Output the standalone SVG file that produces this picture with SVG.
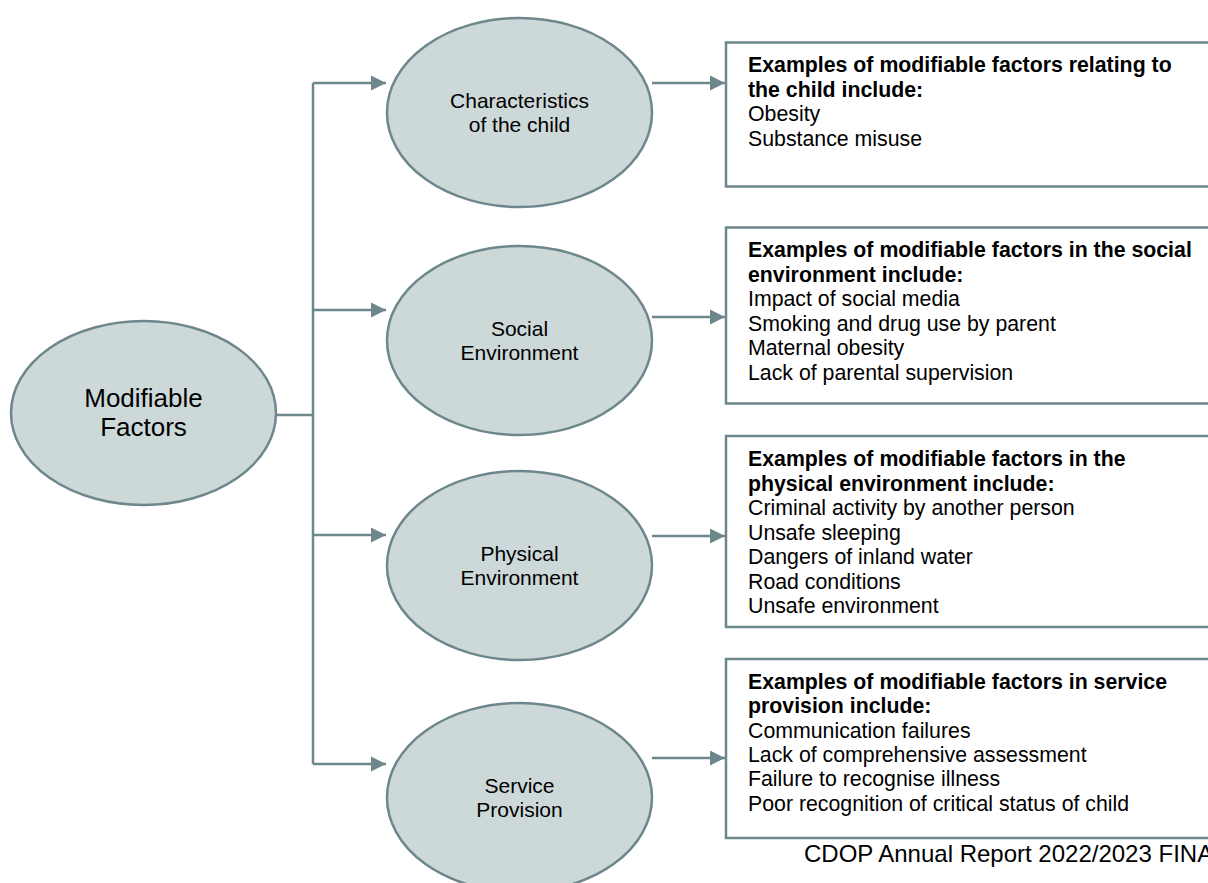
<svg xmlns="http://www.w3.org/2000/svg" width="1208" height="883" viewBox="0 0 1208 883">
<style>
.ell{fill:#cdd8d9;stroke:#6d878c;stroke-width:2.5}
.box{fill:#ffffff;stroke:#6d878c;stroke-width:2.5}
.ln{fill:none;stroke:#6d878c;stroke-width:2.5}
.t{font-family:"Liberation Sans",Arial,sans-serif;font-size:21.3px;fill:#000}
.lbl{font-family:"Liberation Sans",Arial,sans-serif;font-size:21px;fill:#000;text-anchor:middle}
.main{font-family:"Liberation Sans",Arial,sans-serif;font-size:26px;fill:#000;text-anchor:middle}
.b{font-weight:bold}
</style>
<defs>
<marker id="ah" markerUnits="userSpaceOnUse" markerWidth="16" markerHeight="16" refX="15" refY="8" orient="auto">
<path d="M0,0.5 L15,8 L0,15.5 Z" fill="#6d878c"/>
</marker>
</defs>
<rect width="1208" height="883" fill="#ffffff"/>
<g id="connectors">
<path class="ln" d="M276,415 H313"/>
<path class="ln" d="M313,83 V764"/>
<path class="ln" d="M313,83 H386" marker-end="url(#ah)"/>
<path class="ln" d="M313,310 H386" marker-end="url(#ah)"/>
<path class="ln" d="M313,535 H386" marker-end="url(#ah)"/>
<path class="ln" d="M313,764 H386" marker-end="url(#ah)"/>
<path class="ln" d="M652,83 H725" marker-end="url(#ah)"/>
<path class="ln" d="M652,317 H725" marker-end="url(#ah)"/>
<path class="ln" d="M652,536 H725" marker-end="url(#ah)"/>
<path class="ln" d="M652,758 H725" marker-end="url(#ah)"/>
</g>
<g id="modifiable-factors">
<ellipse class="ell" cx="143.5" cy="413" rx="132.5" ry="92"/>
<text class="main" x="143.5" y="407">Modifiable</text>
<text class="main" x="143.5" y="436">Factors</text>
</g>
<g id="characteristics">
<ellipse class="ell" cx="519.5" cy="112.5" rx="132.5" ry="94.5"/>
<text class="lbl" x="519.5" y="108">Characteristics</text>
<text class="lbl" x="519.5" y="132">of the child</text>
</g>
<g id="social">
<ellipse class="ell" cx="519.5" cy="340.5" rx="132.5" ry="94.5"/>
<text class="lbl" x="519.5" y="336">Social</text>
<text class="lbl" x="519.5" y="360">Environment</text>
</g>
<g id="physical">
<ellipse class="ell" cx="519.5" cy="565.5" rx="132.5" ry="94.5"/>
<text class="lbl" x="519.5" y="561">Physical</text>
<text class="lbl" x="519.5" y="585">Environment</text>
</g>
<g id="service">
<ellipse class="ell" cx="519.5" cy="797.5" rx="132.5" ry="94.5"/>
<text class="lbl" x="519.5" y="793">Service</text>
<text class="lbl" x="519.5" y="817">Provision</text>
</g>
<g id="box-child">
<rect class="box" x="726" y="42.5" width="500" height="144"/>
<text class="t b" x="748" y="72">Examples of modifiable factors relating to</text>
<text class="t b" x="748" y="96.5">the child include:</text>
<text class="t" x="748" y="121">Obesity</text>
<text class="t" x="748" y="145.5">Substance misuse</text>
</g>
<g id="box-social">
<rect class="box" x="726" y="227.5" width="500" height="176"/>
<text class="t b" x="748" y="257">Examples of modifiable factors in the social</text>
<text class="t b" x="748" y="281.5">environment include:</text>
<text class="t" x="748" y="306">Impact of social media</text>
<text class="t" x="748" y="330.5">Smoking and drug use by parent</text>
<text class="t" x="748" y="355">Maternal obesity</text>
<text class="t" x="748" y="379.5">Lack of parental supervision</text>
</g>
<g id="box-physical">
<rect class="box" x="726" y="436" width="500" height="191"/>
<text class="t b" x="748" y="466">Examples of modifiable factors in the</text>
<text class="t b" x="748" y="490.5">physical environment include:</text>
<text class="t" x="748" y="515">Criminal activity by another person</text>
<text class="t" x="748" y="539.5">Unsafe sleeping</text>
<text class="t" x="748" y="564">Dangers of inland water</text>
<text class="t" x="748" y="588.5">Road conditions</text>
<text class="t" x="748" y="613">Unsafe environment</text>
</g>
<g id="box-service">
<rect class="box" x="726" y="659" width="500" height="179"/>
<text class="t b" x="748" y="689">Examples of modifiable factors in service</text>
<text class="t b" x="748" y="713.3">provision include:</text>
<text class="t" x="748" y="737.6">Communication failures</text>
<text class="t" x="748" y="762">Lack of comprehensive assessment</text>
<text class="t" x="748" y="786.2">Failure to recognise illness</text>
<text class="t" x="748" y="810.5">Poor recognition of critical status of child</text>
</g>
<g id="footer">
<text class="t" x="804" y="862" style="font-size:24px">CDOP Annual Report 2022/2023 FINA</text>
</g>
</svg>
